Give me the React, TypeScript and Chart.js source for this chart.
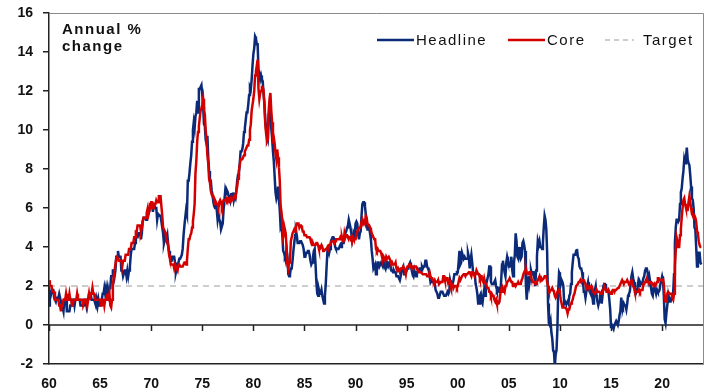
import React, { useEffect, useRef } from "react";
import { Chart, registerables } from "chart.js";

Chart.register(...registerables);

// Monthly series, starting January 1960
const startYear = 1960;
const xTickYears = [1960, 1965, 1970, 1975, 1980, 1985, 1990, 1995, 2000, 2005, 2010, 2015, 2020];
const yMin = -2;
const yMax = 16;
const targetRate = 2;
const seriesNames = ["Headline", "Core", "Target"];
const titleLines = ["Annual %", "change"];

const headline = [
  1.0, 1.7, 1.5, 1.7, 1.8, 1.8, 1.4, 1.4, 1.2, 1.4, 1.4, 1.4,
  1.6, 1.4, 1.4, 1.0, 0.9, 0.7, 1.3, 1.3, 1.3, 0.7, 0.7, 0.7,
  0.7, 1.0, 1.0, 1.3, 1.3, 1.3, 1.0, 1.3, 1.3, 1.3, 1.3, 1.3,
  1.3, 1.0, 1.0, 1.0, 1.0, 1.3, 1.3, 1.3, 1.0, 1.3, 1.3, 1.6,
  1.6, 1.6, 1.3, 1.3, 1.3, 1.3, 1.3, 1.0, 1.3, 1.0, 1.3, 1.0,
  1.0, 1.0, 1.3, 1.6, 1.6, 1.9, 1.6, 1.9, 1.6, 1.9, 1.6, 1.9,
  1.9, 2.5, 2.5, 2.8, 2.8, 2.5, 2.8, 3.5, 3.5, 3.8, 3.5, 3.5,
  3.5, 2.8, 2.8, 2.5, 2.5, 2.8, 2.8, 2.5, 2.8, 2.5, 2.8, 3.0,
  3.6, 3.9, 3.9, 3.9, 3.9, 4.2, 4.5, 4.5, 4.5, 4.7, 4.7, 4.7,
  4.4, 4.7, 5.3, 5.5, 5.5, 5.5, 5.4, 5.7, 5.7, 5.7, 5.9, 6.2,
  6.2, 6.1, 5.8, 6.1, 6.1, 6.0, 6.0, 5.4, 5.7, 5.7, 5.6, 5.6,
  5.3, 5.0, 4.7, 4.2, 4.4, 4.6, 4.4, 4.6, 4.1, 3.8, 3.5, 3.3,
  3.3, 3.5, 3.5, 3.5, 3.2, 2.7, 2.9, 2.9, 3.2, 3.4, 3.4, 3.4,
  3.6, 3.9, 4.6, 5.1, 5.5, 5.9, 5.7, 7.4, 7.4, 7.8, 8.3, 8.7,
  9.4, 10.0, 10.4, 10.1, 10.7, 10.9, 11.5, 10.9, 12.1, 12.1, 12.2, 12.3,
  11.8, 11.2, 10.3, 10.2, 9.5, 9.3, 9.7, 8.6, 7.9, 7.4, 7.4, 6.9,
  6.7, 6.3, 6.1, 6.0, 6.2, 5.9, 5.4, 5.7, 5.4, 5.3, 4.9, 4.9,
  5.2, 5.9, 6.4, 6.9, 6.7, 6.9, 6.8, 6.6, 6.6, 6.4, 6.7, 6.7,
  6.8, 6.4, 6.6, 6.5, 6.9, 7.4, 7.7, 7.8, 8.3, 8.9, 8.9, 9.0,
  9.3, 9.9, 10.1, 10.5, 10.9, 10.9, 11.3, 11.8, 12.2, 12.1, 12.6, 13.3,
  13.9, 14.2, 14.8, 14.7, 14.4, 14.4, 13.1, 12.9, 12.6, 12.8, 12.6, 12.5,
  11.8, 11.4, 10.5, 10.0, 9.8, 9.6, 10.8, 10.8, 11.0, 10.1, 9.6, 8.9,
  8.4, 7.6, 6.8, 6.5, 6.7, 7.1, 6.4, 5.9, 5.0, 5.1, 4.6, 3.8,
  3.7, 3.5, 3.6, 3.9, 3.5, 2.6, 2.5, 2.6, 2.9, 2.9, 3.3, 3.8,
  4.2, 4.6, 4.8, 4.6, 4.2, 4.2, 4.2, 4.3, 4.3, 4.3, 4.1, 3.9,
  3.5, 3.5, 3.7, 3.7, 3.8, 3.8, 3.6, 3.3, 3.1, 3.2, 3.5, 3.8,
  3.9, 3.1, 2.2, 1.6, 1.5, 1.8, 1.6, 1.6, 1.8, 1.5, 1.3, 1.1,
  1.5, 2.1, 3.0, 3.8, 3.9, 3.7, 3.9, 4.3, 4.4, 4.5, 4.5, 4.4,
  4.0, 3.9, 3.9, 3.9, 3.9, 4.0, 4.1, 4.0, 4.2, 4.2, 4.2, 4.4,
  4.7, 4.8, 5.0, 5.1, 5.4, 5.2, 5.0, 4.7, 4.3, 4.5, 4.7, 4.6,
  5.2, 5.3, 5.2, 4.7, 4.4, 4.7, 4.8, 5.6, 6.2, 6.3, 6.3, 6.1,
  5.7, 5.3, 4.9, 4.9, 5.0, 4.7, 4.4, 3.8, 3.4, 2.9, 3.0, 3.1,
  2.6, 2.8, 3.2, 3.2, 3.0, 3.1, 3.2, 3.1, 3.0, 3.2, 3.0, 2.9,
  3.3, 3.2, 3.1, 3.2, 3.2, 3.0, 2.8, 2.8, 2.7, 2.8, 2.7, 2.7,
  2.5, 2.5, 2.5, 2.4, 2.3, 2.5, 2.8, 2.9, 3.0, 2.6, 2.7, 2.7,
  2.8, 2.9, 2.9, 3.1, 3.2, 3.0, 2.8, 2.6, 2.5, 2.8, 2.6, 2.5,
  2.7, 2.7, 2.8, 2.9, 2.9, 2.8, 3.0, 2.9, 3.0, 3.0, 3.3, 3.3,
  3.0, 3.0, 2.8, 2.5, 2.2, 2.3, 2.2, 2.2, 2.2, 2.1, 1.8, 1.7,
  1.6, 1.4, 1.4, 1.4, 1.7, 1.7, 1.7, 1.6, 1.5, 1.5, 1.5, 1.6,
  1.7, 1.6, 1.7, 2.3, 2.1, 2.0, 2.1, 2.3, 2.6, 2.6, 2.6, 2.7,
  2.7, 3.2, 3.8, 3.1, 3.2, 3.7, 3.7, 3.4, 3.5, 3.4, 3.4, 3.4,
  3.7, 3.5, 2.9, 3.3, 3.6, 3.2, 2.7, 2.7, 2.6, 2.1, 1.9, 1.6,
  1.1, 1.1, 1.5, 1.6, 1.2, 1.1, 1.5, 1.8, 1.5, 2.0, 2.2, 2.4,
  2.6, 3.0, 3.0, 2.2, 2.1, 2.1, 2.1, 2.2, 2.3, 2.0, 1.8, 1.9,
  1.9, 1.7, 1.7, 2.3, 3.1, 3.3, 3.0, 2.7, 2.5, 3.2, 3.5, 3.3,
  3.0, 3.0, 3.1, 3.5, 2.8, 2.5, 3.2, 3.6, 4.7, 4.3, 3.5, 3.4,
  4.0, 3.6, 3.4, 3.5, 4.2, 4.3, 4.1, 3.8, 2.1, 1.3, 2.0, 2.5,
  2.1, 2.4, 2.8, 2.6, 2.7, 2.7, 2.4, 2.0, 2.8, 3.5, 4.3, 4.1,
  4.3, 4.0, 4.0, 3.9, 4.2, 5.0, 5.6, 5.4, 4.9, 3.7, 1.1, 0.1,
  0.0, 0.2, -0.4, -0.7, -1.3, -1.4, -2.1, -1.5, -1.3, -0.2, 1.8, 2.7,
  2.6, 2.1, 2.3, 2.2, 2.0, 1.1, 1.2, 1.1, 1.1, 1.2, 1.1, 1.5,
  1.6, 2.1, 2.7, 3.2, 3.6, 3.6, 3.6, 3.8, 3.9, 3.5, 3.4, 3.0,
  2.9, 2.9, 2.7, 2.3, 1.7, 1.7, 1.4, 1.7, 2.0, 2.2, 1.8, 1.7,
  1.6, 2.0, 1.5, 1.1, 1.4, 1.8, 2.0, 1.5, 1.2, 1.0, 1.2, 1.5,
  1.6, 1.1, 1.5, 2.0, 2.1, 2.1, 2.0, 1.7, 1.7, 1.7, 1.3, 0.8,
  -0.1, 0.0, -0.1, -0.2, 0.0, 0.1, 0.2, 0.2, 0.0, 0.2, 0.5, 0.7,
  1.4, 1.0, 0.9, 1.1, 1.0, 1.0, 0.8, 1.1, 1.5, 1.6, 1.7, 2.1,
  2.5, 2.7, 2.4, 2.2, 1.9, 1.6, 1.7, 1.9, 2.2, 2.0, 2.2, 2.1,
  2.1, 2.2, 2.4, 2.5, 2.8, 2.9, 2.9, 2.7, 2.3, 2.5, 2.2, 1.9,
  1.6, 1.5, 1.9, 2.0, 1.8, 1.6, 1.8, 1.7, 1.7, 1.8, 2.1, 2.3,
  2.5, 2.3, 1.5, 0.3, 0.1, 0.6, 1.0, 1.3, 1.4, 1.2, 1.2, 1.4,
  1.4, 1.7, 2.6, 4.2, 5.0, 5.4, 5.4, 5.3, 5.4, 6.2, 6.8, 7.0,
  7.5, 7.9, 8.5, 8.3, 8.6, 9.1, 8.5, 8.3, 8.2, 7.7, 7.1, 6.5,
  6.4, 6.0, 5.0, 4.9, 4.0, 3.0, 3.2, 3.7, 3.7, 3.2, 3.1,
];

const core = [
  2.3, 2.0, 2.0, 2.0, 1.7, 1.7, 1.7, 1.3, 1.3, 1.3, 1.3, 1.3,
  1.0, 1.0, 0.7, 1.0, 1.0, 1.3, 1.3, 1.3, 1.6, 1.3, 1.3, 1.3,
  1.6, 1.3, 1.3, 1.0, 1.0, 1.3, 1.3, 1.3, 1.3, 1.6, 1.3, 1.3,
  1.3, 1.3, 1.3, 1.3, 1.0, 1.0, 1.3, 1.3, 1.3, 1.0, 1.3, 1.6,
  1.3, 1.6, 1.6, 1.9, 1.6, 1.6, 1.3, 1.3, 1.3, 1.3, 1.3, 1.3,
  1.3, 1.0, 1.0, 1.3, 1.3, 1.0, 1.3, 1.3, 1.6, 1.3, 1.3, 1.6,
  1.0, 0.9, 1.3, 2.0, 2.5, 2.8, 3.1, 3.4, 3.5, 3.5, 3.3, 3.3,
  3.3, 3.3, 3.0, 3.3, 3.3, 3.3, 3.6, 3.6, 3.6, 3.6, 3.9, 3.9,
  3.9, 4.2, 4.2, 4.2, 4.5, 4.5, 4.8, 4.8, 5.1, 5.1, 5.1, 5.1,
  4.8, 5.0, 5.3, 5.5, 5.5, 5.5, 5.5, 5.8, 6.0, 5.7, 5.9, 6.1,
  6.3, 6.3, 6.0, 6.0, 6.2, 6.2, 6.4, 6.3, 6.3, 6.6, 6.6, 6.6,
  6.1, 5.6, 5.0, 5.0, 4.8, 4.7, 4.3, 4.3, 4.0, 3.6, 3.4, 3.1,
  3.1, 3.1, 3.1, 2.9, 3.1, 3.1, 2.9, 2.8, 3.1, 3.1, 3.0, 3.0,
  3.0, 3.0, 3.1, 3.2, 3.2, 3.1, 3.3, 3.9, 4.4, 4.4, 4.6, 4.7,
  5.0, 5.3, 5.7, 6.2, 7.8, 8.4, 9.4, 9.9, 10.2, 10.6, 11.0, 11.1,
  11.3, 11.6, 11.0, 10.8, 10.0, 9.5, 8.7, 8.3, 7.5, 7.3, 6.9, 6.7,
  6.6, 6.6, 6.4, 6.2, 6.3, 6.2, 6.2, 6.0, 6.3, 6.4, 6.3, 6.1,
  6.3, 6.4, 6.4, 6.4, 6.5, 6.4, 6.5, 6.5, 6.3, 6.3, 6.5, 6.4,
  6.5, 6.6, 6.5, 6.5, 6.9, 7.1, 7.5, 7.9, 8.2, 8.5, 8.5, 8.5,
  8.6, 8.7, 8.9, 9.0, 9.1, 9.2, 9.2, 9.5, 10.0, 10.3, 11.0, 11.3,
  11.6, 12.0, 12.8, 13.0, 13.3, 13.6, 12.1, 11.6, 11.9, 12.0, 12.2, 12.2,
  12.0, 11.2, 10.3, 9.8, 9.4, 9.5, 11.0, 11.6, 11.9, 11.0, 10.4, 9.5,
  9.6, 9.3, 8.8, 8.5, 9.0, 8.6, 8.1, 7.4, 6.1, 5.8, 5.3, 4.5,
  4.7, 4.9, 4.7, 3.9, 3.1, 2.9, 3.2, 3.3, 4.3, 4.5, 4.7, 4.8,
  4.9, 4.8, 5.0, 5.2, 5.2, 5.2, 5.0, 5.1, 5.1, 5.0, 4.8, 4.8,
  4.6, 4.6, 4.6, 4.5, 4.5, 4.5, 4.5, 4.4, 4.2, 4.1, 4.2, 4.1,
  4.1, 4.1, 4.2, 4.2, 4.1, 3.9, 3.9, 4.0, 4.1, 4.0, 3.8, 3.8,
  3.8, 3.9, 3.9, 4.0, 3.9, 4.1, 4.1, 4.1, 4.3, 4.3, 4.3, 4.2,
  4.3, 4.4, 4.4, 4.4, 4.4, 4.4, 4.5, 4.4, 4.5, 4.3, 4.3, 4.7,
  4.5, 4.6, 4.6, 4.5, 4.5, 4.5, 4.4, 4.5, 4.3, 4.5, 4.4, 4.4,
  4.4, 4.6, 4.8, 4.9, 4.9, 5.0, 5.0, 5.3, 5.4, 5.2, 5.3, 5.2,
  5.6, 5.5, 5.2, 5.1, 5.1, 5.0, 4.9, 4.7, 4.6, 4.5, 4.4, 4.4,
  3.9, 3.8, 3.9, 3.8, 3.8, 3.8, 3.7, 3.5, 3.4, 3.5, 3.4, 3.3,
  3.5, 3.4, 3.4, 3.5, 3.4, 3.3, 3.1, 3.2, 3.1, 3.1, 3.1, 3.2,
  2.9, 2.8, 2.9, 2.8, 2.8, 2.9, 2.9, 2.9, 3.0, 2.9, 2.8, 2.6,
  2.9, 3.0, 3.0, 3.1, 3.1, 3.0, 3.0, 3.0, 2.9, 3.0, 3.0, 3.0,
  2.9, 2.8, 2.8, 2.7, 2.7, 2.7, 2.7, 2.6, 2.6, 2.6, 2.6, 2.6,
  2.5, 2.5, 2.5, 2.7, 2.5, 2.4, 2.4, 2.3, 2.2, 2.3, 2.2, 2.2,
  2.2, 2.3, 2.1, 2.1, 2.2, 2.2, 2.2, 2.5, 2.5, 2.3, 2.3, 2.4,
  2.4, 2.1, 2.1, 2.2, 2.0, 2.1, 2.1, 1.9, 2.0, 2.0, 2.0, 1.9,
  2.0, 2.2, 2.4, 2.3, 2.4, 2.5, 2.5, 2.6, 2.6, 2.5, 2.6, 2.6,
  2.6, 2.7, 2.7, 2.6, 2.5, 2.7, 2.7, 2.6, 2.6, 2.6, 2.8, 2.7,
  2.6, 2.6, 2.4, 2.5, 2.5, 2.3, 2.2, 2.4, 2.2, 2.2, 2.0, 1.9,
  1.9, 1.7, 1.7, 1.5, 1.6, 1.5, 1.5, 1.3, 1.2, 1.3, 1.1, 1.1,
  1.1, 1.2, 1.6, 1.8, 1.7, 1.9, 1.8, 1.7, 2.0, 2.0, 2.2, 2.2,
  2.3, 2.4, 2.3, 2.2, 2.2, 2.0, 2.1, 2.1, 2.0, 2.1, 2.1, 2.2,
  2.1, 2.1, 2.1, 2.3, 2.4, 2.6, 2.7, 2.8, 2.9, 2.7, 2.6, 2.6,
  2.7, 2.7, 2.5, 2.3, 2.2, 2.2, 2.2, 2.1, 2.1, 2.2, 2.3, 2.4,
  2.5, 2.3, 2.4, 2.3, 2.3, 2.4, 2.5, 2.5, 2.5, 2.2, 2.0, 1.8,
  1.7, 1.8, 1.8, 1.9, 1.8, 1.7, 1.5, 1.4, 1.5, 1.7, 1.7, 1.8,
  1.6, 1.3, 1.1, 0.9, 0.9, 0.9, 0.9, 0.9, 0.8, 0.6, 0.8, 0.8,
  1.0, 1.1, 1.2, 1.3, 1.5, 1.6, 1.8, 2.0, 2.0, 2.1, 2.2, 2.2,
  2.3, 2.2, 2.3, 2.3, 2.3, 2.2, 2.1, 1.9, 2.0, 2.0, 1.9, 1.9,
  1.9, 2.0, 1.9, 1.7, 1.7, 1.6, 1.7, 1.8, 1.7, 1.7, 1.7, 1.7,
  1.6, 1.6, 1.7, 1.8, 2.0, 1.9, 1.9, 1.7, 1.7, 1.8, 1.7, 1.6,
  1.6, 1.7, 1.8, 1.8, 1.7, 1.8, 1.8, 1.8, 1.9, 1.9, 2.0, 2.1,
  2.2, 2.3, 2.2, 2.1, 2.2, 2.2, 2.2, 2.3, 2.2, 2.1, 2.1, 2.2,
  2.3, 2.2, 2.0, 1.9, 1.7, 1.7, 1.7, 1.7, 1.7, 1.8, 1.7, 1.8,
  1.8, 1.8, 2.1, 2.1, 2.2, 2.3, 2.4, 2.2, 2.2, 2.1, 2.2, 2.2,
  2.2, 2.1, 2.0, 2.1, 2.0, 2.1, 2.2, 2.4, 2.4, 2.3, 2.3, 2.3,
  2.3, 2.4, 2.1, 1.4, 1.2, 1.2, 1.6, 1.7, 1.7, 1.6, 1.6, 1.6,
  1.4, 1.3, 1.6, 3.0, 3.8, 4.5, 4.3, 4.0, 4.0, 4.6, 4.9, 5.5,
  6.0, 6.4, 6.5, 6.2, 6.0, 5.9, 5.9, 6.3, 6.6, 6.3, 6.0, 5.7,
  5.6, 5.5, 5.6, 5.5, 5.3, 4.8, 4.7, 4.3, 4.1, 4.0, 4.0,
];

const NAVY = "#0b2a78";
const RED = "#d40000";
const GREY_DASH = "#bdbdbd";

const toPoints = (vals: number[]) =>
  vals.map((v, i) => ({ x: startYear + i / 12, y: v }));

const decorPlugin = {
  id: "decor",
  beforeDatasetsDraw(chart: any) {
    const { ctx, chartArea, scales } = chart;
    const x = scales.x;
    const y0 = scales.y.getPixelForValue(0);
    ctx.save();
    ctx.strokeStyle = "#222";
    ctx.lineWidth = 1.5;
    ctx.beginPath();
    ctx.moveTo(chartArea.left, y0);
    ctx.lineTo(chartArea.right, y0);
    for (const yr of xTickYears) {
      const px = Math.round(x.getPixelForValue(yr)) + 0.5;
      ctx.moveTo(px, y0);
      ctx.lineTo(px, y0 + 6);
    }
    ctx.stroke();
    ctx.restore();
  },
  afterDraw(chart: any) {
    const { ctx, chartArea } = chart;
    ctx.save();
    // frame (top + right)
    ctx.strokeStyle = "#8a8a8a";
    ctx.lineWidth = 1;
    ctx.beginPath();
    ctx.moveTo(chartArea.left, chartArea.top + 0.5);
    ctx.lineTo(chartArea.right + 0.5, chartArea.top + 0.5);
    ctx.lineTo(chartArea.right + 0.5, chartArea.bottom);
    ctx.stroke();

    // title
    ctx.fillStyle = "#111";
    ctx.font = "bold 15px 'Liberation Sans', Arial, sans-serif";
    (ctx as any).letterSpacing = "1.5px";
    ctx.textAlign = "left";
    ctx.textBaseline = "alphabetic";
    ctx.fillText(titleLines[0], chartArea.left + 13, chartArea.top + 21);
    ctx.fillText(titleLines[1], chartArea.left + 13, chartArea.top + 38);

    // legend
    const ly = chartArea.top + 27;
    ctx.font = "15px 'Liberation Sans', Arial, sans-serif";
    ctx.textBaseline = "middle";
    const items = [
      { x: 377, w: 37, color: NAVY, dash: [] as number[], label: seriesNames[0] },
      { x: 508, w: 37, color: RED, dash: [] as number[], label: seriesNames[1] },
      { x: 605, w: 29, color: GREY_DASH, dash: [5, 4], label: seriesNames[2] },
    ];
    for (const it of items) {
      ctx.strokeStyle = it.color;
      ctx.lineWidth = it.dash.length ? 1.5 : 2.5;
      ctx.setLineDash(it.dash);
      ctx.beginPath();
      ctx.moveTo(it.x, ly);
      ctx.lineTo(it.x + it.w, ly);
      ctx.stroke();
      ctx.setLineDash([]);
      ctx.fillStyle = "#111";
      ctx.fillText(it.label, it.x + it.w + (it.dash.length ? 9 : 2), ly + 1);
    }
    ctx.restore();
  },
};

export default function App() {
  const ref = useRef<HTMLCanvasElement>(null);
  useEffect(() => {
    if (!ref.current) return;
    const tickFont = { family: "'Liberation Sans', Arial, sans-serif", size: 14, weight: "bold" as const };
    const chart = new Chart(ref.current, {
      type: "line",
      data: {
        datasets: [
          {
            label: seriesNames[1],
            data: toPoints(core),
            borderColor: RED,
            borderWidth: 2.5,
            pointRadius: 0,
            tension: 0,
            order: 0,
          },
          {
            label: seriesNames[0],
            data: toPoints(headline),
            borderColor: NAVY,
            borderWidth: 2.5,
            pointRadius: 0,
            tension: 0,
            order: 1,
          },
          {
            label: seriesNames[2],
            data: [
              { x: startYear, y: targetRate },
              { x: 2024, y: targetRate },
            ],
            borderColor: GREY_DASH,
            borderWidth: 1.5,
            borderDash: [6, 5],
            pointRadius: 0,
            order: 2,
          },
        ],
      },
      options: {
        responsive: false,
        animation: false,
        layout: { padding: { top: 13, right: 9, left: 0, bottom: 0 } },
        plugins: { legend: { display: false }, tooltip: { enabled: false } },
        scales: {
          x: {
            type: "linear",
            min: 1960,
            max: 2024,
            afterBuildTicks: (s: any) => {
              s.ticks = xTickYears.map((v) => ({ value: v }));
            },
            afterFit: (s: any) => {
              s.height = 28;
              s.paddingLeft = 0;
              s.paddingRight = 0;
            },
            ticks: {
              autoSkip: false,
              maxRotation: 0,
              padding: 12,
              color: "#111",
              font: tickFont,
              callback: (v: any) => String(Number(v) % 100).padStart(2, "0"),
            },
            grid: { display: true, drawOnChartArea: false, drawTicks: false },
            border: { display: true, color: "#222", width: 1.5 },
          },
          y: {
            min: yMin,
            max: yMax,
            afterFit: (s: any) => {
              s.width = 49;
              s.paddingTop = 0;
              s.paddingBottom = 0;
            },
            ticks: { stepSize: 2, padding: 10, color: "#111", font: tickFont },
            grid: {
              display: true,
              drawOnChartArea: false,
              drawTicks: true,
              tickLength: 6,
              color: "#222",
              lineWidth: 1.5,
            },
            border: { display: true, color: "#222", width: 1.5 },
          },
        },
      },
      plugins: [decorPlugin],
    });
    return () => chart.destroy();
  }, []);
  return (
    <div style={{ position: "fixed", left: 0, top: 0, width: 712, height: 392, background: "#fff" }}>
      <canvas ref={ref} width={712} height={392} />
    </div>
  );
}
